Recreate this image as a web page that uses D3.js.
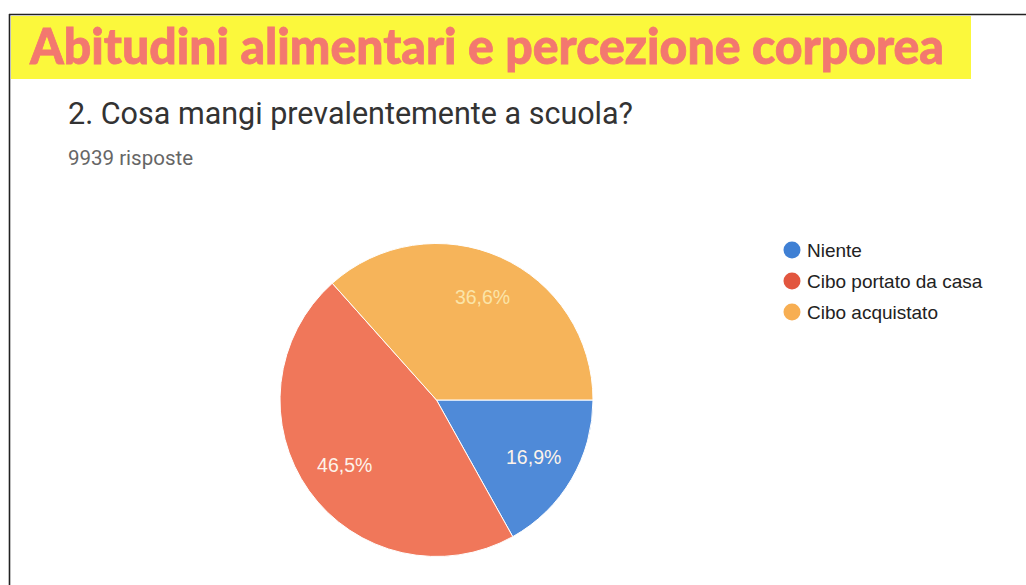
<!DOCTYPE html>
<html>
<head>
<meta charset="utf-8">
<script src="https://cdn.jsdelivr.net/npm/d3@7"></script>
<style>
  html, body { margin: 0; padding: 0; background: #fff; }
  svg { display: block; }
</style>
</head>
<body>
<svg id="chart" width="1026" height="585"></svg>
<script>
const pageTitle = "Abitudini alimentari e percezione corporea";
const question = "2. Cosa mangi prevalentemente a scuola?";
const responses = "9939 risposte";

const categories = ["Niente", "Cibo portato da casa", "Cibo acquistato"];
const percentages = [16.9, 46.5, 36.6];
const sliceColors = ["#4f8ad8", "#f0775a", "#f6b45a"];
const legendColors = ["#3f80d4", "#e2563f", "#f7ae52"];

const svg = d3.select("#chart");

// frame lines from the scanned page
svg.append("line")
  .attr("x1", 9).attr("y1", 14.5).attr("x2", 1026).attr("y2", 14.5)
  .attr("stroke", "#222").attr("stroke-width", 1.6);
svg.append("line")
  .attr("x1", 9.5).attr("y1", 14).attr("x2", 9.5).attr("y2", 585)
  .attr("stroke", "#222").attr("stroke-width", 1.6);

// yellow banner
svg.append("rect")
  .attr("x", 11).attr("y", 16).attr("width", 960).attr("height", 63)
  .attr("fill", "#fbf83c");
svg.append("text")
  .attr("x", 30).attr("y", 64)
  .attr("textLength", 914)
  .attr("lengthAdjust", "spacingAndGlyphs")
  .style("font-family", "Lato, 'Open Sans', sans-serif")
  .style("font-weight", "900")
  .style("font-size", "50px")
  .attr("fill", "#f3786f")
  .attr("stroke", "#f3786f")
  .attr("stroke-width", 0.8)
  .text(pageTitle);

svg.append("text")
  .attr("x", 68).attr("y", 124)
  .style("font-family", "Roboto, sans-serif")
  .style("font-size", "30.5px")
  .attr("fill", "#333")
  .text(question);

svg.append("text")
  .attr("x", 68).attr("y", 165)
  .style("font-family", "Roboto, sans-serif")
  .style("font-size", "20.5px")
  .attr("fill", "#666")
  .text(responses);

// pie
const cx = 436.5, cy = 400, radius = 156.5;
const data = categories.map((c, i) => ({ name: c, value: percentages[i], color: sliceColors[i] }));

const pie = d3.pie()
  .value(d => d.value)
  .sort(null)
  .startAngle(Math.PI / 2)
  .endAngle(Math.PI / 2 + 2 * Math.PI);

const arc = d3.arc().innerRadius(0).outerRadius(radius);
const labelArc = d3.arc().innerRadius(radius * 0.72).outerRadius(radius * 0.72);

const g = svg.append("g").attr("transform", `translate(${cx},${cy})`);
const arcs = pie(data);

g.selectAll("path")
  .data(arcs)
  .enter()
  .append("path")
  .attr("d", arc)
  .attr("fill", d => d.data.color)
  .attr("stroke", "#fff")
  .attr("stroke-width", 1);

g.selectAll("text")
  .data(arcs)
  .enter()
  .append("text")
  .attr("transform", d => `translate(${labelArc.centroid(d)})`)
  .attr("text-anchor", "middle")
  .attr("dy", "0.36em")
  .style("font-family", "'Liberation Sans', Arial, sans-serif")
  .style("font-size", "19.5px")
  .attr("fill", (d, i) => i === 2 ? "#fbe4a8" : "#fdf3ea")
  .text(d => d3.format(".1f")(d.data.value).replace(".", ",") + "%");

// legend
const legend = svg.append("g").attr("transform", "translate(792,250)");
const rows = legend.selectAll("g")
  .data(categories)
  .enter()
  .append("g")
  .attr("transform", (d, i) => `translate(0,${i * 31})`);

rows.append("circle")
  .attr("r", 8.5)
  .attr("fill", (d, i) => legendColors[i]);

rows.append("text")
  .attr("x", 15)
  .attr("dy", "0.36em")
  .style("font-family", "'Liberation Sans', Arial, sans-serif")
  .style("font-size", "19px")
  .attr("fill", "#222")
  .text(d => d);
</script>
</body>
</html>
